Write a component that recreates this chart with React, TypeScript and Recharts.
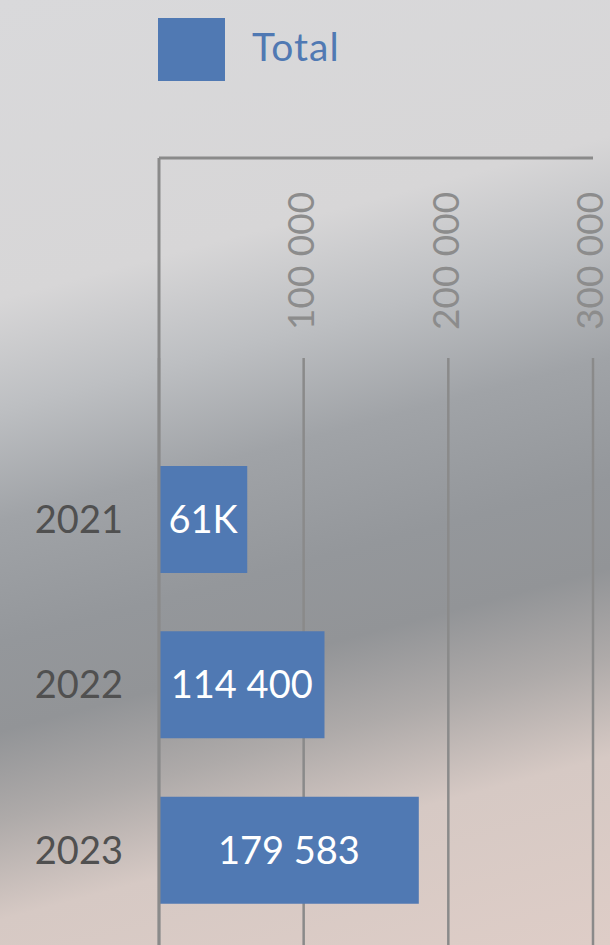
import { BarChart, Bar, XAxis, YAxis, CartesianGrid, Legend, LabelList } from 'recharts'

const years = ['2021', '2022', '2023']
const totals = [61000, 114400, 179583]
const totalLabels = ['61K', '114 400', '179 583']
const xTicks = [100000, 200000, 300000]

const BLUE = '#5079b3'
const LINE = '#8a8a8a'
const FONT = 'Lato, "Noto Sans", sans-serif'

const data = years.map((year, i) => ({ year, total: totals[i], label: totalLabels[i] }))

const fmt = (v: number) => String(v).replace(/\B(?=(\d{3})+(?!\d))/g, ' ')

function XTick(props: any) {
  const { x, y, payload } = props
  const tx = x - 3
  const ty = y + 172
  return (
    <text
      x={tx}
      y={ty}
      dy="0.36em"
      transform={`rotate(-90, ${tx}, ${ty})`}
      textAnchor="start"
      fill="#8c8c8c"
      fontSize={37}
      fontFamily={FONT}
    >
      {fmt(payload.value)}
    </text>
  )
}

function GridLine(props: any) {
  const { x1, x2, y1, y2 } = props
  // lines start below the rotated tick labels
  return <line x1={x1} x2={x2} y1={y1 + 200} y2={y2} stroke={LINE} strokeWidth={2.5} />
}

function LegendBox(props: any) {
  const items = props.payload || []
  return (
    <div style={{ display: 'flex', alignItems: 'center' }}>
      {items.map((it: any) => (
        <div key={it.value} style={{ display: 'flex', alignItems: 'center' }}>
          <div style={{ width: 67, height: 63, background: BLUE }} />
          <span
            style={{
              marginLeft: 27,
              marginTop: -6,
              fontSize: 39,
              color: BLUE,
              fontFamily: FONT,
              lineHeight: 1,
              letterSpacing: 1,
            }}
          >
            {it.value}
          </span>
        </div>
      ))}
    </div>
  )
}

export default function App() {
  return (
    <div
      style={{
        position: 'absolute',
        top: 0,
        left: 0,
        width: 610,
        height: 945,
        overflow: 'hidden',
        background:
          'linear-gradient(165deg, #d9d9db 0%, #d7d6d7 27%, #bdbfc2 37%, #a0a3a7 47%, #94979b 58%, #929497 66%, #aeaaa9 74%, #d6c9c4 83%, #decdc7 100%)',
      }}
    >
      <BarChart
        width={610}
        height={945}
        data={data}
        layout="vertical"
        margin={{ top: 157, right: 17, bottom: 0, left: 0 }}
      >
        <CartesianGrid horizontal={false} vertical={GridLine} />
        <XAxis
          type="number"
          orientation="top"
          domain={[0, 300000]}
          ticks={xTicks}
          height={1}
          tickSize={0}
          tickMargin={0}
          tickLine={false}
          axisLine={{ stroke: LINE, strokeWidth: 3 }}
          tick={<XTick />}
          interval={0}
        />
        <YAxis
          type="category"
          dataKey="year"
          width={159}
          padding={{ top: 279, bottom: 12 }}
          tickLine={false}
          tickSize={0}
          tickMargin={36}
          axisLine={{ stroke: LINE, strokeWidth: 3 }}
          tick={{ fill: '#505050', fontSize: 38, fontFamily: FONT }}
        />
        <Legend
          layout="horizontal"
          verticalAlign="middle"
          align="center"
          content={<LegendBox />}
          wrapperStyle={{ position: 'absolute', top: 18, left: 158, width: 'auto' }}
        />
        <Bar dataKey="total" name="Total" fill={BLUE} barSize={107} isAnimationActive={false}>
          <LabelList dataKey="label" position="center" fill="#ffffff" fontSize={38} fontFamily={FONT} />
        </Bar>
      </BarChart>
    </div>
  )
}
